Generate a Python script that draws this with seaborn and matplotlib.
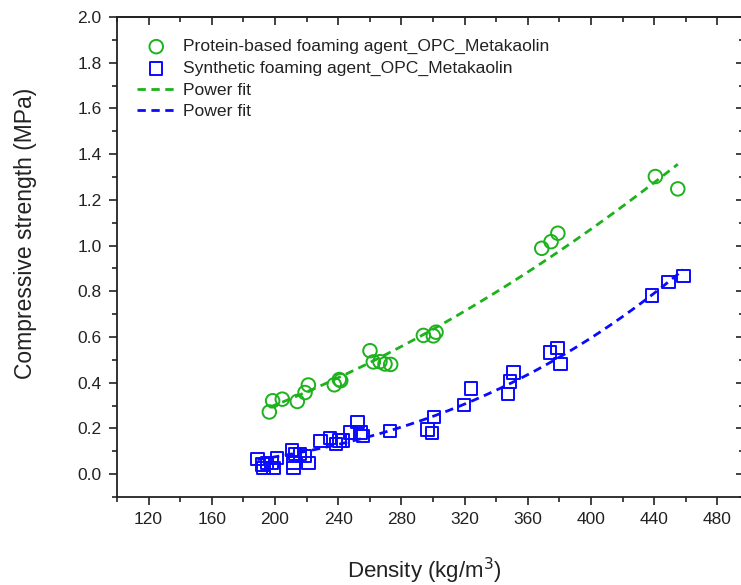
import numpy as np
import pandas as pd
import seaborn as sns
import matplotlib
matplotlib.use("Agg")
import matplotlib.pyplot as plt
from matplotlib.ticker import FixedLocator

# protein-based foaming agent (green circles)
prot_density = [196.4, 198.5, 204.6, 214.1, 219.0, 221.1, 237.5, 240.7, 241.6,
                260.1, 262.2, 266.4, 269.6, 273.2, 293.9, 300.2, 301.9,
                368.8, 374.7, 379.0, 440.7, 454.9]
prot_strength = [0.272, 0.321, 0.328, 0.318, 0.357, 0.390, 0.391, 0.414, 0.409,
                 0.540, 0.491, 0.492, 0.482, 0.480, 0.607, 0.605, 0.621,
                 0.988, 1.017, 1.054, 1.302, 1.248]

# synthetic foaming agent (blue squares)
syn_density = [188.8, 192.2, 192.6, 195.1, 197.9, 199.0, 201.1,
               210.6, 211.6, 211.6, 212.7, 215.8, 219.0, 221.1,
               228.9, 234.8, 238.6, 240.7, 243.2, 247.5, 252.1, 254.2, 255.5,
               272.8, 296.5, 299.5, 300.5, 319.5, 323.9, 347.5, 348.7, 350.8,
               374.0, 378.7, 380.8, 438.6, 448.9, 458.4]
syn_strength = [0.067, 0.043, 0.028, 0.050, 0.050, 0.028, 0.070,
                0.106, 0.050, 0.028, 0.087, 0.087, 0.079, 0.050,
                0.145, 0.157, 0.133, 0.148, 0.148, 0.182, 0.228, 0.182, 0.167,
                0.189, 0.196, 0.180, 0.250, 0.302, 0.375, 0.350, 0.405, 0.445,
                0.533, 0.553, 0.482, 0.782, 0.841, 0.866]

x_major = [120, 160, 200, 240, 280, 320, 360, 400, 440, 480]
x_minor = [100, 140, 180, 220, 260, 300, 340, 380, 420, 460]
y_major = [0.0, 0.2, 0.4, 0.6, 0.8, 1.0, 1.2, 1.4, 1.6, 1.8, 2.0]
y_minor = [-0.1, 0.1, 0.3, 0.5, 0.7, 0.9, 1.1, 1.3, 1.5, 1.7, 1.9]

GREEN = "#1db21d"
BLUE = "#0a0aff"
INK = "#222222"


def power_fit(x, y):
    # least squares of y = a*x^b in linear space (grid over b)
    x = np.asarray(x); y = np.asarray(y)
    best = None
    for b in np.linspace(0.3, 5.0, 4000):
        xb = x ** b
        a = (y * xb).sum() / (xb * xb).sum()
        err = ((y - a * xb) ** 2).sum()
        if best is None or err < best[0]:
            best = (err, a, b)
    xs = np.linspace(x.min(), x.max(), 200)
    return xs, best[1] * xs ** best[2]


sns.set_style("ticks")
plt.rcParams["font.family"] = ["Liberation Sans", "DejaVu Sans"]

fig = plt.figure(figsize=(7.41, 5.85), dpi=100)
# right spine sits just past the figure edge (as in the cropped original)
ax = fig.add_axes([117 / 741, 88 / 585, 627 / 741, 480 / 585])

df_p = pd.DataFrame({"d": prot_density, "s": prot_strength})
df_s = pd.DataFrame({"d": syn_density, "s": syn_strength})

sns.scatterplot(data=df_p, x="d", y="s", ax=ax, marker="o", s=95,
                facecolor="none", edgecolor=GREEN, linewidth=1.4,
                label="Protein-based foaming agent_OPC_Metakaolin", zorder=3)
sns.scatterplot(data=df_s, x="d", y="s", ax=ax, marker="s", s=80,
                facecolor="none", edgecolor=BLUE, linewidth=1.4,
                label="Synthetic foaming agent_OPC_Metakaolin", zorder=3)

fx, fy = power_fit(prot_density, prot_strength)
sns.lineplot(x=fx, y=fy, ax=ax, color=GREEN, linewidth=2.0,
             linestyle=(0, (3, 2)), label="Power fit", zorder=2)
fx, fy = power_fit(syn_density, syn_strength)
sns.lineplot(x=fx, y=fy, ax=ax, color=BLUE, linewidth=2.0,
             linestyle=(0, (3, 2)), label="Power fit", zorder=2)

ax.set_xlim(100, 496.8)
ax.set_ylim(-0.1, 2.0)
ax.xaxis.set_major_locator(FixedLocator(x_major))
ax.xaxis.set_minor_locator(FixedLocator(x_minor))
ax.yaxis.set_major_locator(FixedLocator(y_major))
ax.yaxis.set_minor_locator(FixedLocator(y_minor))
ax.set_xticklabels([str(v) for v in x_major])
ax.set_yticklabels([f"{v:.1f}" for v in y_major])
ax.tick_params(which="both", direction="out", width=1.2, colors=INK,
               labelsize=12.5)
ax.tick_params(which="major", length=6, pad=5)
ax.tick_params(which="minor", length=3.5)

# inward ticks on top and right
top = ax.secondary_xaxis("top")
top.xaxis.set_major_locator(FixedLocator(x_major))
top.xaxis.set_minor_locator(FixedLocator(x_minor))
top.tick_params(which="both", direction="in", labeltop=False, width=1.2,
                colors=INK)
top.tick_params(which="major", length=6)
top.tick_params(which="minor", length=3.5)
right = ax.secondary_yaxis("right")
right.yaxis.set_major_locator(FixedLocator(y_major))
right.yaxis.set_minor_locator(FixedLocator(y_minor))
right.tick_params(which="both", direction="in", labelright=False, width=1.2,
                  colors=INK)
right.tick_params(which="major", length=6)
right.tick_params(which="minor", length=3.5)

for sp in ax.spines.values():
    sp.set_visible(True)
    sp.set_linewidth(1.3)
    sp.set_color(INK)
top.spines["top"].set_linewidth(1.3)
top.spines["top"].set_color(INK)
right.spines["right"].set_linewidth(1.3)

ax.set_xlabel("Density (kg/m$^3$)", fontsize=16, color=INK)
ax.set_ylabel("Compressive strength (MPa)", fontsize=16.5, color=INK)
ax.xaxis.set_label_coords(307 / 627, -59 / 480)
ax.yaxis.set_label_coords(-80 / 627, 264 / 480)

h, l = ax.get_legend_handles_labels()
leg = ax.legend(h, l, loc="upper left", bbox_to_anchor=(137 / 741, 1 - 39 / 585),
                bbox_transform=fig.transFigure, frameon=False, fontsize=12.6,
                handlelength=2.2, handletextpad=0.45, labelspacing=0.36,
                borderpad=0, borderaxespad=0)
for t in leg.get_texts():
    t.set_color(INK)

fig.savefig("out.png", dpi=100)
